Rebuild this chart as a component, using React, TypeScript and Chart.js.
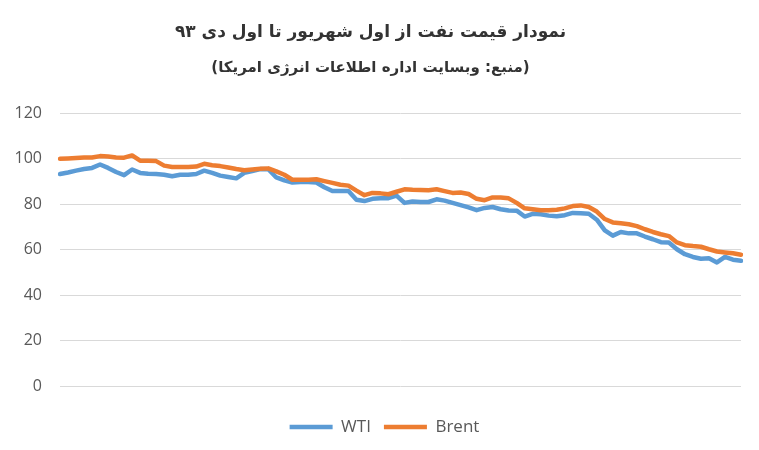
import React, { useEffect, useRef } from "react";
import { Chart, registerables } from "chart.js";

Chart.register(...registerables);

const TITLE = "نمودار قیمت نفت از اول شهریور تا اول دی ۹۳";
const SUBTITLE = "(منبع: وبسایت اداره اطلاعات انرژی امریکا)";

const WTI = [
  93.3, 94.0, 94.8, 95.5, 96.0, 97.5, 96.0, 94.2, 92.8, 95.3,
  93.8, 93.4, 93.3, 93.0, 92.3, 93.0, 93.0, 93.3, 94.8, 93.8,
  92.6, 92.0, 91.4, 93.8, 94.6, 95.5, 95.4, 91.8, 90.5, 89.6,
  89.8, 89.8, 89.6, 87.5, 85.8, 85.8, 85.8, 82.0, 81.4, 82.4,
  82.7, 82.7, 83.8, 80.6, 81.2, 81.0, 81.0, 82.2, 81.6, 80.6,
  79.6, 78.6, 77.4, 78.4, 78.8, 77.8, 77.3, 77.2, 74.6, 75.8,
  75.6, 75.0, 74.7, 75.2, 76.2, 76.0, 75.8, 73.2, 68.5, 66.2,
  67.8, 67.2, 67.2, 65.8, 64.6, 63.3, 63.2, 60.2, 58.0, 56.8,
  56.0, 56.2, 54.4, 56.8, 55.6, 55.1,
];

const BRENT = [
  100.0, 100.2, 100.4, 100.6, 100.6, 101.2, 101.0, 100.6, 100.5, 101.5,
  99.2, 99.2, 99.0, 97.0, 96.4, 96.4, 96.4, 96.6, 97.8, 97.2,
  96.8, 96.2, 95.5, 95.0, 95.3, 95.6, 95.8, 94.5, 93.0, 90.8,
  90.8, 90.8, 91.0, 90.2, 89.4, 88.6, 88.2, 86.0, 84.0, 85.0,
  84.8, 84.4, 85.5, 86.6, 86.4, 86.3, 86.2, 86.6, 85.8, 85.0,
  85.2, 84.5, 82.4, 81.8, 83.0, 83.0, 82.6, 80.6, 78.2, 77.8,
  77.4, 77.4, 77.6, 78.2, 79.2, 79.5, 78.8, 76.8, 73.5, 72.0,
  71.6, 71.2, 70.4, 69.0, 67.8, 66.8, 66.0, 63.2, 62.0, 61.6,
  61.3, 60.2, 59.2, 58.8, 58.4, 57.8,
];

const CATEGORIES = WTI.map((_, i) => String(i + 1));

const Y_MIN = 0;
const Y_MAX = 120;
const Y_STEP = 20;

const legendShift = {
  id: "legendShift",
  afterLayout(chart: any) {
    const lg = chart.legend;
    if (lg) {
      lg.left += 14;
      lg.right += 14;
    }
  },
};

export default function App() {
  const canvasRef = useRef<HTMLCanvasElement | null>(null);

  useEffect(() => {
    if (!canvasRef.current) return;
    const chart = new Chart(canvasRef.current, {
      type: "line",
      data: {
        labels: CATEGORIES,
        datasets: [
          {
            label: "WTI",
            data: WTI,
            borderColor: "#5B9BD5",
            backgroundColor: "#5B9BD5",
            borderWidth: 4.5,
            pointRadius: 0,
            tension: 0,
            borderJoinStyle: "round",
            borderCapStyle: "round",
            order: 1,
          },
          {
            label: "Brent",
            data: BRENT,
            borderColor: "#ED7D31",
            backgroundColor: "#ED7D31",
            borderWidth: 4.5,
            pointRadius: 0,
            tension: 0,
            borderJoinStyle: "round",
            borderCapStyle: "round",
            order: 0,
          },
        ],
      },
      options: {
        animation: false,
        responsive: false,
        maintainAspectRatio: false,
        layout: { padding: { top: 0, right: 18, bottom: 4.5, left: 0 } },
        plugins: {
          tooltip: { enabled: false },
          title: {
            display: true,
            text: TITLE,
            color: "#333333",
            font: { family: "DejaVu Sans", size: 17, weight: "bold", lineHeight: 1.2 },
            padding: { top: 22, bottom: 17 },
          },
          subtitle: {
            display: true,
            text: SUBTITLE,
            color: "#333333",
            font: { family: "DejaVu Sans", size: 15, weight: "bold", lineHeight: 1.2 },
            padding: { top: 0, bottom: 36 },
          },
          legend: {
            display: true,
            position: "bottom",
            labels: {
              usePointStyle: true,
              pointStyle: "line",
              pointStyleWidth: 43,
              boxHeight: 17,
              color: "#595959",
              font: { family: "Open Sans", size: 17 },
              padding: 13,
              sort: (a: any, b: any) => a.datasetIndex - b.datasetIndex,
            },
          },
        },
        scales: {
          x: {
            display: true,
            grid: { display: false },
            border: { display: false },
            ticks: { display: false },
            offset: false,
            afterFit: (scale: any) => {
              scale.height = 19.5;
            },
          },
          y: {
            min: Y_MIN,
            max: Y_MAX,
            grid: { color: "#D9D9D9", lineWidth: 1, drawTicks: false },
            border: { display: false },
            ticks: {
              stepSize: Y_STEP,
              padding: 18,
              color: "#595959",
              font: { family: "Open Sans", size: 16 },
            },
            afterFit: (scale: any) => {
              scale.width = 60;
            },
          },
        },
      },
      plugins: [legendShift],
    });
    return () => chart.destroy();
  }, []);

  return (
    <div style={{ position: "fixed", left: 0, top: 0, width: 759, height: 450, background: "#fff" }}>
      <canvas ref={canvasRef} width={759} height={450} style={{ width: 759, height: 450 }} />
    </div>
  );
}
